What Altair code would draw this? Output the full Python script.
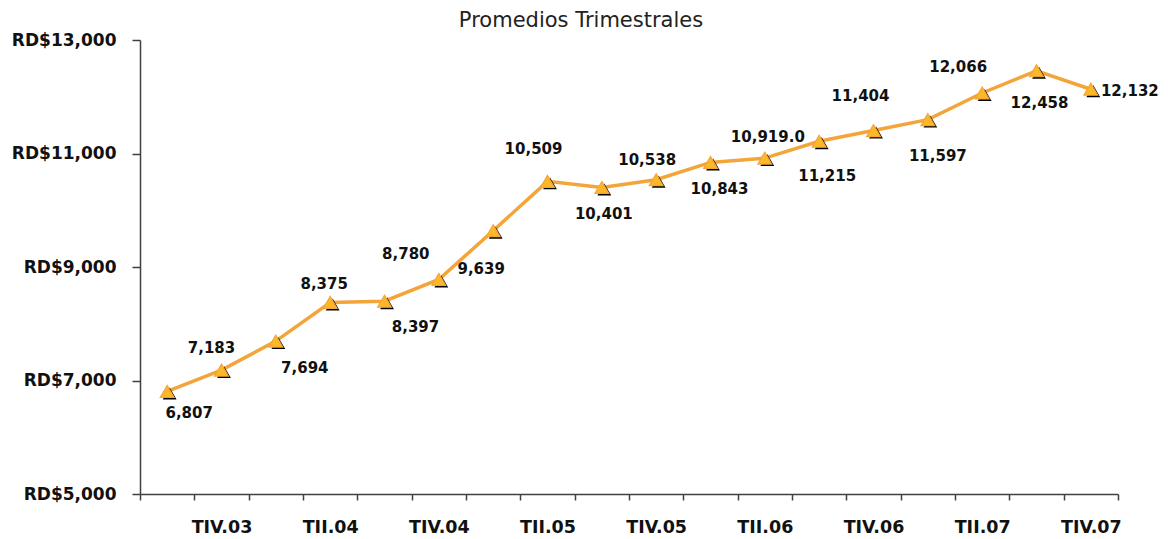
import altair as alt
import pandas as pd

quarters = ["TIII.03", "TIV.03", "TI.04", "TII.04", "TIII.04", "TIV.04",
            "TI.05", "TII.05", "TIII.05", "TIV.05", "TI.06", "TII.06",
            "TIII.06", "TIV.06", "TI.07", "TII.07", "TIII.07", "TIV.07"]
values = [6807, 7183, 7694, 8375, 8397, 8780, 9639, 10509, 10401, 10538,
          10843, 10919.0, 11215, 11404, 11597, 12066, 12458, 12132]
decimals = [0, 0, 0, 0, 0, 0, 0, 0, 0, 0, 0, 1, 0, 0, 0, 0, 0, 0]
shown_ticks = ["TIV.03", "TII.04", "TIV.04", "TII.05", "TIV.05",
               "TII.06", "TIV.06", "TII.07", "TIV.07"]
y_ticks = [5000, 7000, 9000, 11000, 13000]

# label placement offsets (pixels) relative to each marker
label_dx = [22, -10, 29, -6, 31, -33, -12, -14, 2, -9, 9, 3, 8, -13, 10, -24, 3, 39]
label_dy = [22, -22, 27, -18, 26, -25, 38, -32, 27, -20, 27, -21, 35, -35, 36, -26, 32, 2]

labels = [f"{v:,.{d}f}" for v, d in zip(values, decimals)]
df = pd.DataFrame({"q": quarters, "v": values, "lab": labels})

FONT = "DejaVu Sans"
LINE = "#F4A53A"
FILL = "#FDB827"

label_expr = ("indexof([" + ",".join(f"'{s}'" for s in shown_ticks) +
              "], datum.label) >= 0 ? datum.label : ''")

x = alt.X("q:N", sort=quarters,
          scale=alt.Scale(type="band", paddingInner=0, paddingOuter=0),
          axis=alt.Axis(title=None, labelExpr=label_expr, tickBand="extent",
                        labelAngle=0, labelOverlap=False, labelFont=FONT,
                        labelFontSize=17.5, labelFontWeight="bold", labelColor="#111",
                        labelPadding=18, tickSize=6, tickColor="#404040",
                        domainColor="#404040", domainWidth=1.5, tickWidth=1.5,
                        grid=False))
y = alt.Y("v:Q",
          scale=alt.Scale(domain=[5000, 13000], nice=False, zero=False),
          axis=alt.Axis(title=None, values=y_ticks,
                        labelExpr="'RD$' + format(datum.value, ',')",
                        labelFont=FONT, labelFontSize=17, labelFontWeight="bold",
                        labelColor="#111", labelPadding=16, tickSize=8,
                        tickColor="#404040", domainColor="#404040",
                        domainWidth=1.5, tickWidth=1.5, grid=False))

base = alt.Chart(df)
line = base.mark_line(color=LINE, strokeWidth=3.5).encode(x=x, y=y)
shadow = base.mark_point(shape="triangle-up", filled=True, color="#000000",
                         size=190, opacity=1, xOffset=2.5, yOffset=2).encode(x=x, y=y)
tri = base.mark_point(shape="triangle-up", filled=True, fill=FILL, stroke=LINE,
                      strokeWidth=1.2, size=190, opacity=1).encode(x=x, y=y)

layers = [line, shadow, tri]
for i, q in enumerate(quarters):
    layers.append(
        base.transform_filter(alt.datum.q == q)
        .mark_text(dx=label_dx[i], dy=label_dy[i], font=FONT, fontSize=15,
                   fontWeight="bold", color="#111")
        .encode(x=x, y=y, text="lab:N")
    )

chart = alt.layer(*layers).properties(
    width=978, height=454,
    autosize=alt.AutoSizeParams(type="none"),
    padding={"left": 132, "top": 32, "right": 40, "bottom": 46},
    title=alt.Title("Promedios Trimestrales", font=FONT, fontSize=21,
                    fontWeight="normal", color="#222", dx=-48, offset=0,
                    anchor="middle"),
).configure_view(stroke=None)

chart.save("out.html", embed_options={"renderer": "svg", "actions": False})
